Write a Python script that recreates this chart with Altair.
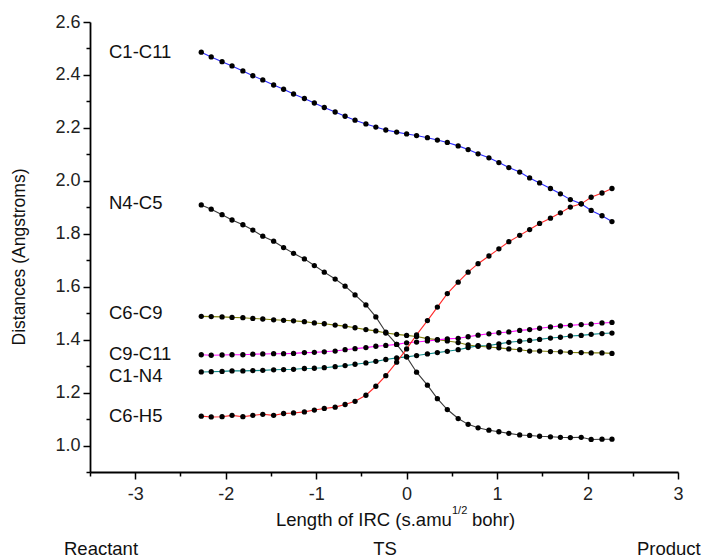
import altair as alt
import pandas as pd

# Length of IRC (s.amu^1/2 bohr)
irc = [-2.27, -2.16, -2.04, -1.93, -1.81, -1.70, -1.59, -1.47, -1.36, -1.25, -1.13,
       -1.02, -0.91, -0.79, -0.68, -0.57, -0.45, -0.34, -0.23, -0.11, 0.00,
       0.11, 0.23, 0.34, 0.45, 0.57, 0.68, 0.79, 0.91, 1.02, 1.13,
       1.25, 1.36, 1.47, 1.59, 1.70, 1.81, 1.93, 2.04, 2.16, 2.27]

c1_c11 = [2.486, 2.468, 2.450, 2.434, 2.415, 2.397, 2.381, 2.362, 2.346, 2.328, 2.311,
          2.294, 2.277, 2.260, 2.244, 2.229, 2.215, 2.203, 2.192, 2.184, 2.177,
          2.171, 2.163, 2.154, 2.145, 2.132, 2.118, 2.102, 2.087, 2.069, 2.050,
          2.033, 2.011, 1.992, 1.971, 1.951, 1.929, 1.913, 1.888, 1.868, 1.846]

n4_c5 = [1.909, 1.893, 1.872, 1.852, 1.834, 1.814, 1.791, 1.772, 1.748, 1.726, 1.705,
         1.680, 1.655, 1.629, 1.602, 1.569, 1.531, 1.486, 1.428, 1.382, 1.335,
         1.277, 1.228, 1.177, 1.136, 1.102, 1.080, 1.067, 1.058, 1.052, 1.046,
         1.040, 1.038, 1.035, 1.033, 1.031, 1.030, 1.031, 1.023, 1.024, 1.024]

c6_c9 = [1.488, 1.487, 1.486, 1.484, 1.483, 1.480, 1.478, 1.475, 1.473, 1.471, 1.468,
         1.463, 1.460, 1.455, 1.451, 1.445, 1.438, 1.433, 1.425, 1.420, 1.416,
         1.412, 1.404, 1.400, 1.395, 1.389, 1.380, 1.375, 1.372, 1.369, 1.365,
         1.362, 1.357, 1.357, 1.355, 1.354, 1.352, 1.351, 1.350, 1.350, 1.348]

c9_c11 = [1.343, 1.341, 1.342, 1.343, 1.343, 1.345, 1.346, 1.347, 1.347, 1.348, 1.351,
          1.352, 1.354, 1.357, 1.362, 1.366, 1.370, 1.375, 1.378, 1.382, 1.388,
          1.391, 1.395, 1.399, 1.403, 1.405, 1.411, 1.417, 1.422, 1.426, 1.429,
          1.435, 1.438, 1.443, 1.448, 1.452, 1.454, 1.457, 1.459, 1.463, 1.465]

c1_n4 = [1.278, 1.279, 1.280, 1.282, 1.282, 1.283, 1.284, 1.286, 1.287, 1.288, 1.291,
         1.292, 1.294, 1.298, 1.302, 1.307, 1.312, 1.318, 1.325, 1.331, 1.335,
         1.340, 1.346, 1.351, 1.356, 1.362, 1.370, 1.377, 1.378, 1.384, 1.390,
         1.394, 1.397, 1.401, 1.406, 1.409, 1.414, 1.416, 1.420, 1.423, 1.425]

c6_h5 = [1.111, 1.108, 1.109, 1.114, 1.109, 1.114, 1.118, 1.114, 1.121, 1.123, 1.127,
         1.134, 1.140, 1.145, 1.155, 1.167, 1.190, 1.224, 1.264, 1.315, 1.365,
         1.418, 1.472, 1.523, 1.574, 1.617, 1.655, 1.687, 1.716, 1.743, 1.770,
         1.794, 1.816, 1.839, 1.859, 1.879, 1.901, 1.913, 1.938, 1.954, 1.971]

series_names = ["C1-C11", "N4-C5", "C6-C9", "C9-C11", "C1-N4", "C6-H5"]
series_values = [c1_c11, n4_c5, c6_c9, c9_c11, c1_n4, c6_h5]
series_colors = ["#2a2aff", "#3a3a3a", "#80800c", "#ff10ff", "#108a8a", "#ff2a2a"]

# series label annotations (placed left of the curves)
label_x = -3.29
label_y = [2.487, 1.917, 1.502, 1.347, 1.262, 1.113]

x_ticks = [-3.5, -3.0, -2.5, -2.0, -1.5, -1.0, -0.5, 0.0, 0.5, 1.0, 1.5, 2.0, 2.5, 3.0]
y_ticks = [0.9, 1.0, 1.1, 1.2, 1.3, 1.4, 1.5, 1.6, 1.7, 1.8, 1.9, 2.0, 2.1, 2.2,
           2.3, 2.4, 2.5, 2.6]

rows = []
for name, vals in zip(series_names, series_values):
    for xv, yv in zip(irc, vals):
        rows.append({"series": name, "irc": xv, "dist": yv})
df = pd.DataFrame(rows)

lab_df = pd.DataFrame({"series": series_names, "irc": [label_x] * len(series_names),
                       "dist": label_y})

FONT = "Liberation Sans"
TXT = 18.5

xaxis = alt.Axis(
    values=x_ticks, title=None,
    labelExpr="datum.value % 1 == 0 ? '' + datum.value : ''",
    tickSize={"condition": {"test": "datum.value % 1 == 0", "value": 7}, "value": 4},
    labelPadding=6, labelFlush=False,
)
yaxis = alt.Axis(
    values=y_ticks, title=None,
    labelExpr="round(datum.value*10) % 2 == 0 ? format(datum.value, '.1f') : ''",
    tickSize={"condition": {"test": "round(datum.value*10) % 2 == 0", "value": 7}, "value": 4},
    labelPadding=3, labelFlush=False,
)
xscale = alt.Scale(domain=[-3.5, 3.0], nice=False, zero=False)
yscale = alt.Scale(domain=[0.9, 2.6], nice=False, zero=False)

x_enc = alt.X("irc:Q", scale=xscale, axis=xaxis)
y_enc = alt.Y("dist:Q", scale=yscale, axis=yaxis)

lines = alt.Chart(df).mark_line(strokeWidth=1.1).encode(
    x=x_enc, y=y_enc,
    color=alt.Color("series:N", scale=alt.Scale(domain=series_names, range=series_colors),
                    legend=None),
    detail="series:N",
)
points = alt.Chart(df).mark_circle(size=28, color="black", opacity=1).encode(
    x=x_enc, y=y_enc, detail="series:N"
)
labels = alt.Chart(lab_df).mark_text(
    align="left", baseline="middle", font=FONT, fontSize=TXT, color="#111"
).encode(x=x_enc, y=y_enc, text="series:N")


def note(txt, px, py, size=TXT, align="left", angle=0):
    return alt.Chart(pd.DataFrame({"t": [txt]})).mark_text(
        align=align, baseline="middle", font=FONT, fontSize=size, color="#111", angle=angle
    ).encode(x=alt.value(px), y=alt.value(py), text="t:N")


ytitle = note("Distances (Angstroms)", -70, 235, size=17.5, align="center", angle=270)
xt1 = note("Length of IRC (s.amu", 186, 498)
xt2 = note("1/2", 362, 489, size=11)
xt3 = note("bohr)", 382, 498)
reac = note("Reactant", -26, 527)
ts = note("TS", 295, 527, align="center")
prod = note("Product", 547, 527)

chart = alt.layer(
    lines, points, labels, ytitle, xt1, xt2, xt3, reac, ts, prod
).properties(
    width=588, height=450,
    autosize=alt.AutoSizeParams(type="none"),
    padding={"left": 90, "top": 22, "right": 26, "bottom": 86},
    background="white",
).configure_view(stroke=None).configure_axis(
    grid=False, domainColor="black", domainWidth=1.8, tickColor="black", tickWidth=1.5,
    labelFont=FONT, labelFontSize=18, labelColor="#222",
)

chart.save("out.html", embed_options={"renderer": "svg", "actions": False})
